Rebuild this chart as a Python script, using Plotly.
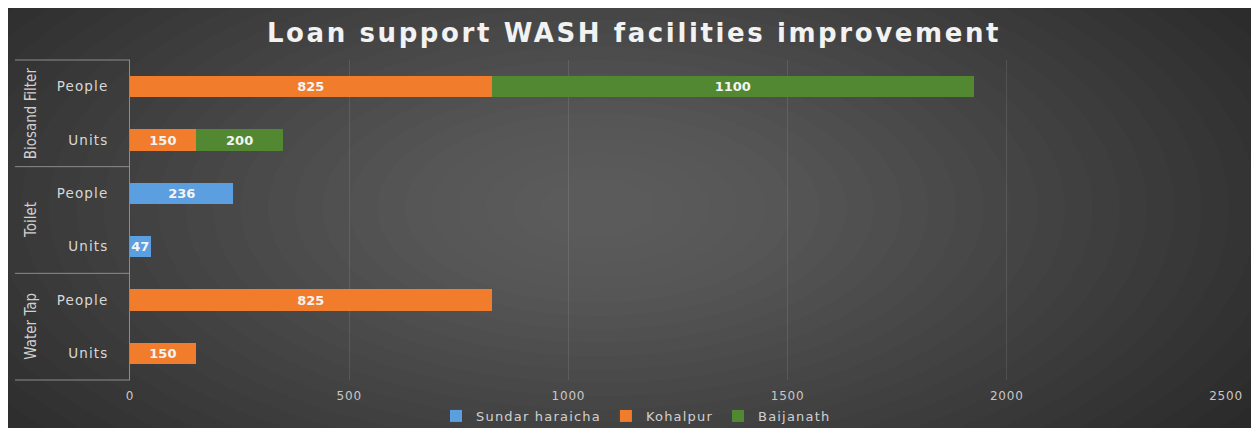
import plotly.graph_objects as go

# ---- data ----
facilities = ["Biosand Filter", "Biosand Filter", "Toilet", "Toilet", "Water Tap", "Water Tap"]
measures = ["People", "Units", "People", "Units", "People", "Units"]
sundar_haraicha = [None, None, 236, 47, None, None]
kohalpur = [825, 150, None, None, 825, 150]
baijanath = [1100, 200, None, None, None, None]
x_ticks = [0, 500, 1000, 1500, 2000, 2500]
title_text = "Loan support WASH facilities improvement"

# ---- geometry (figure pixels; page adds an 8px body margin) ----
W, H = 1251, 420
L, R, T, B = 122, 1218, 52, 372


def px(x):
    return (x - L) / (R - L)


def py(y):
    return (B - y) / (B - T)


def spaced(s, sp):
    return f'<span style="letter-spacing:{sp}px">{s}</span>'


cats = [f"{f}|{m}" for f, m in zip(facilities, measures)]

FONT = "DejaVu Sans, Open Sans, sans-serif"
fig = go.Figure()

series = [
    ("Sundar haraicha", sundar_haraicha, "#5b9fe0"),
    ("Kohalpur", kohalpur, "#f07c2c"),
    ("Baijanath", baijanath, "#538833"),
]
for name, vals, col in series:
    fig.add_trace(go.Bar(
        name=spaced(name, 1.2), y=cats, x=vals, orientation="h",
        marker=dict(color=col, line=dict(width=0)),
        text=[str(v) if v is not None else "" for v in vals],
        textposition="inside", insidetextanchor="middle", textangle=0,
        textfont=dict(color="#f4f4f4", size=13, family=FONT, weight="bold"),
        cliponaxis=False,
    ))

shapes = []
# radial-ish gradient via many stacked translucent ellipses
cx, cy = 590, 200
n = 30
for i in range(n):
    f = 1 - i / n
    rx, ry = 820 * f + 30, 400 * f + 15
    shapes.append(dict(type="circle", xref="paper", yref="paper", layer="below",
                       x0=px(cx - rx), x1=px(cx + rx), y0=py(cy - ry), y1=py(cy + ry),
                       fillcolor="rgba(255,255,255,0.0125)", line=dict(width=0)))
# group divider lines on the left
for yy in [T, T + (B - T) / 3, T + 2 * (B - T) / 3, B]:
    shapes.append(dict(type="line", xref="paper", yref="paper", layer="above",
                       x0=px(7), x1=0, y0=py(yy), y1=py(yy),
                       line=dict(color="#8c8c8c", width=1)))

annotations = []
groups = ["Biosand Filter", "Toilet", "Water Tap"]
for gi, g in enumerate(groups):
    ymid = T + (gi + 0.5) * (B - T) / 3
    annotations.append(dict(text=g, xref="paper", yref="paper", x=px(23), y=py(ymid),
                            textangle=-90, showarrow=False, xanchor="center", yanchor="middle",
                            font=dict(color="#d0d0d0", size=15,
                                      family="Liberation Sans Narrow, Arial Narrow, DejaVu Sans Condensed, sans-serif")))

fig.update_layout(
    width=W, height=H,
    margin=dict(l=L, r=W - R, t=T, b=H - B, autoexpand=False),
    paper_bgcolor="#242424",
    plot_bgcolor="rgba(0,0,0,0)",
    barmode="stack",
    bargap=0.6,
    showlegend=True,
    uniformtext=dict(minsize=13, mode="show"),
    title=dict(text=spaced(title_text, 2.6), x=626 / W, xref="container", xanchor="center",
               y=1 - 25 / H, yanchor="middle",
               font=dict(family=FONT, size=26, color="#f2f2f2", weight="bold")),
    legend=dict(orientation="h", xref="container", yref="container",
                x=628 / W, xanchor="center", y=1 - 408 / H, yanchor="middle",
                font=dict(family=FONT, size=13, color="#d0d0d0"),
                bgcolor="rgba(0,0,0,0)", traceorder="normal",
                itemwidth=30),
    xaxis=dict(range=[0, 2500], tickvals=x_ticks, ticktext=[spaced(v, 0.8) for v in x_ticks],
               showgrid=True, gridcolor="rgba(255,255,255,0.10)", gridwidth=1,
               zeroline=False, showline=False, ticks="", automargin=False,
               tickfont=dict(family=FONT, size=12, color="#c8c8c8"), ticklabelstandoff=7),
    yaxis=dict(type="category", categoryorder="array", categoryarray=cats,
               autorange="reversed", tickvals=cats, ticktext=[spaced(m, 1.1) for m in measures],
               showgrid=False, showline=True, linecolor="#8c8c8c", linewidth=1,
               ticks="", zeroline=False, ticklabelstandoff=18, automargin=False,
               tickfont=dict(family=FONT, size=13.5, color="#d8d8d8")),
    shapes=shapes,
    annotations=annotations,
    font=dict(family=FONT),
)

fig.write_html("out.html")
